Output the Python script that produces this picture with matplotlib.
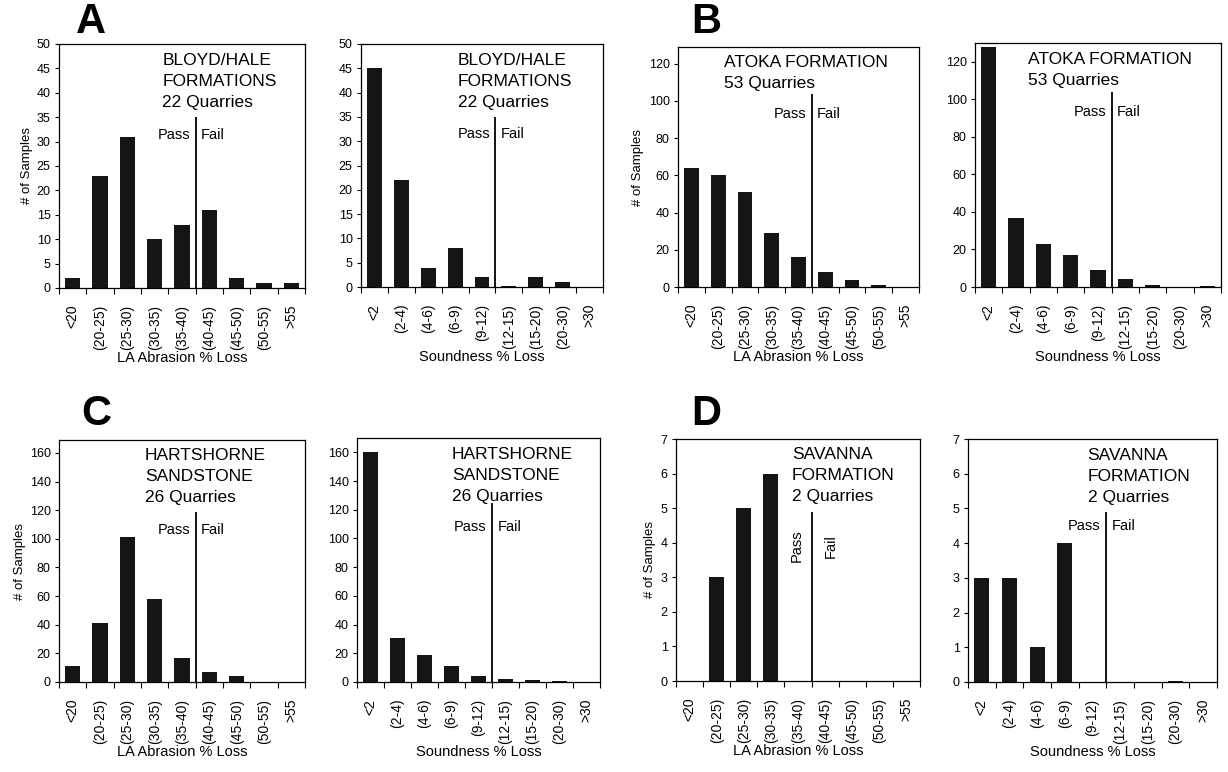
import numpy as np
import matplotlib.pyplot as plt

plt.rcParams['font.family'] = ['Liberation Sans', 'DejaVu Sans']

# category labels
la_labels = ['<20', '(20-25)', '(25-30)', '(30-35)', '(35-40)',
             '(40-45)', '(45-50)', '(50-55)', '>55']
sound_labels = ['<2', '(2-4)', '(4-6)', '(6-9)', '(9-12)',
                '(12-15)', '(15-20)', '(20-30)', '>30']

# number of samples per class
bloyd_la = [2, 23, 31, 10, 13, 16, 2, 1, 1]
bloyd_sound = [45, 22, 4, 8, 2, 0.2, 2, 1, 0]
atoka_la = [64, 60, 51, 29, 16, 8, 4, 1, 0]
atoka_sound = [128, 37, 23, 17, 9, 4, 1, 0, 0.5]
hart_la = [11, 41, 101, 58, 17, 7, 4, 0.3, 0.3]
hart_sound = [160, 31, 19, 11, 4, 2, 1.5, 0.5, 0]
sav_la = [0, 3, 5, 6, 0, 0, 0, 0, 0]
sav_sound = [3, 3, 1, 4, 0, 0, 0, 0.03, 0]

bloyd_title = 'BLOYD/HALE\nFORMATIONS\n22 Quarries'
atoka_title = 'ATOKA FORMATION\n53 Quarries'
hart_title = 'HARTSHORNE\nSANDSTONE\n26 Quarries'
sav_title = 'SAVANNA\nFORMATION\n2 Quarries'

W, H = 1228, 772
fig = plt.figure(figsize=(W / 100, H / 100), dpi=100)


def px_axes(x0, y0, x1, y1):
    return fig.add_axes([x0 / W, 1 - y1 / H, (x1 - x0) / W, (y1 - y0) / H])


def panel(box, vals, labels, xlabel, ymax, ystep, title, tx,
          line_top, pass_y, ylabel=False, vertical=False):
    ax = px_axes(*box)
    x = np.arange(len(vals))
    ax.bar(x, vals, width=0.55, color='#151515', zorder=2)
    ax.set_xlim(-0.5, len(vals) - 0.5)
    ax.set_ylim(0, ymax)
    ax.set_yticks(np.arange(0, ymax + 0.01, ystep))
    ax.set_xticks(x)
    ax.set_xticklabels(labels, rotation=90, fontsize=10)
    ax.set_xticks(np.arange(-0.5, len(vals)), minor=True)
    ax.tick_params(axis='x', which='major', length=0, pad=12)
    ax.tick_params(axis='x', which='minor', length=4, width=0.8)
    ax.tick_params(axis='y', length=3, width=0.8, labelsize=9, pad=3)
    for s in ax.spines.values():
        s.set_linewidth(0.9)
    ax.set_xlabel(xlabel, fontsize=10.5, labelpad=1)
    if ylabel:
        ax.set_ylabel('# of Samples', fontsize=9.5, labelpad=3)
    ax.vlines(4.5, 0, line_top, color='k', lw=1.3, zorder=3)
    if vertical:
        ax.text(4.5 - 0.55, pass_y, 'Pass', rotation=90, ha='center',
                va='center', fontsize=10.5)
        ax.text(4.5 + 0.7, pass_y, 'Fail', rotation=90, ha='center',
                va='center', fontsize=10.5)
    else:
        ax.text(4.5 - 0.2, pass_y, 'Pass', ha='right', va='center', fontsize=10.5)
        ax.text(4.5 + 0.2, pass_y, 'Fail', ha='left', va='center', fontsize=10.5)
    ax.text(tx, 0.965, title, transform=ax.transAxes, ha='left', va='top',
            fontsize=12.5, linespacing=1.5)
    return ax


la_name = 'LA Abrasion % Loss'
sd_name = 'Soundness % Loss'

panel((59, 44, 305, 288), bloyd_la, la_labels, la_name, 50, 5,
      bloyd_title, 0.42, 35, 31.4, ylabel=True)
panel((361, 44, 603, 287), bloyd_sound, sound_labels, sd_name, 50, 5,
      bloyd_title, 0.40, 35, 31.4)
panel((678, 47, 919, 287), atoka_la, la_labels, la_name, 129, 20,
      atoka_title, 0.19, 104, 93, ylabel=True)
panel((975, 43, 1221, 287), atoka_sound, sound_labels, sd_name, 130, 20,
      atoka_title, 0.215, 104, 93)
panel((59, 440, 305, 682), hart_la, la_labels, la_name, 169, 20,
      hart_title, 0.35, 119, 106, ylabel=True)
panel((357, 438, 600, 682), hart_sound, sound_labels, sd_name, 170, 20,
      hart_title, 0.39, 125, 108)
panel((676, 439, 920, 681), sav_la, la_labels, la_name, 7, 1,
      sav_title, 0.475, 4.9, 3.9, ylabel=True, vertical=True)
panel((968, 439, 1217, 682), sav_sound, sound_labels, sd_name, 7, 1,
      sav_title, 0.48, 4.9, 4.48)

for letter, xp, yp in [('A', 91, 22), ('B', 706, 22), ('C', 96, 414), ('D', 706, 414)]:
    fig.text(xp / W, 1 - yp / H, letter, fontsize=30, fontweight='bold',
             ha='center', va='center')

fig.savefig('out.png', dpi=100)
